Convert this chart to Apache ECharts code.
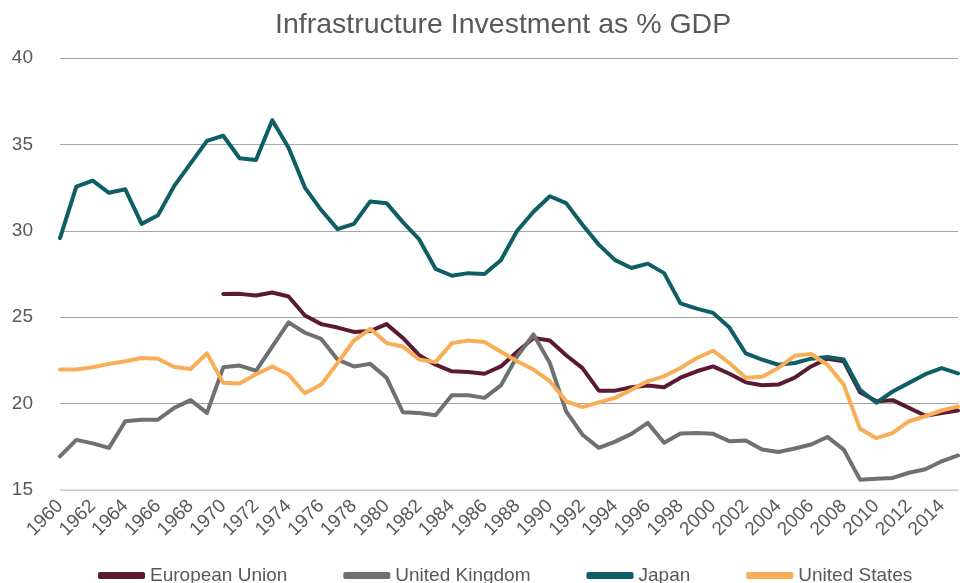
<!DOCTYPE html>
<html>
<head>
<meta charset="utf-8">
<script src="https://cdn.jsdelivr.net/npm/echarts@6/dist/echarts.min.js"></script>
<style>
  html, body { margin: 0; padding: 0; background: #fff; }
  #chart { width: 960px; height: 583px; }
</style>
</head>
<body>
<div id="chart"></div>
<script>
// years 1960..2015
const years = [];
for (let y = 1960; y <= 2015; y++) years.push(String(y));

const euData = [
  null, null, null, null, null, null, null, null, null, null,
  26.34, 26.35, 26.26, 26.43, 26.2, 25.1, 24.6, 24.4, 24.15, 24.2,
  24.6, 23.8, 22.8, 22.25, 21.87, 21.83, 21.73, 22.15, 23.0, 23.8,
  23.65, 22.8, 22.05, 20.75, 20.75, 20.95, 21.05, 20.95, 21.5, 21.87,
  22.15, 21.73, 21.23, 21.06, 21.1, 21.5, 22.15, 22.6, 22.45, 20.65,
  20.13, 20.2, 19.75, 19.3, 19.45, 19.6
];
const ukData = [
  16.95, 17.9, 17.7, 17.44, 18.98, 19.07, 19.07, 19.75, 20.2, 19.46,
  22.1, 22.2, 21.9, 23.3, 24.7, 24.1, 23.74, 22.55, 22.15, 22.3,
  21.5, 19.5, 19.46, 19.32, 20.48, 20.48, 20.33, 21.05, 22.74, 24.0,
  22.35, 19.55, 18.2, 17.44, 17.8, 18.25, 18.88, 17.73, 18.27, 18.3,
  18.25, 17.82, 17.86, 17.34, 17.2, 17.4, 17.63, 18.07, 17.34, 15.6,
  15.65, 15.7, 16.0, 16.2, 16.66, 17.0
];
const japanData = [
  29.58, 32.56, 32.9, 32.2, 32.4, 30.4, 30.9, 32.6, 33.9, 35.2,
  35.5, 34.2, 34.1, 36.4, 34.8, 32.5, 31.2, 30.1, 30.4, 31.7,
  31.6, 30.5, 29.5, 27.8, 27.4, 27.55, 27.5, 28.3, 30.0, 31.1,
  32.0, 31.6, 30.35, 29.2, 28.3, 27.85, 28.1, 27.55, 25.8, 25.5,
  25.25, 24.4, 22.9, 22.55, 22.25, 22.35, 22.6, 22.7, 22.55, 20.8,
  20.05, 20.7, 21.2, 21.7, 22.05, 21.75
];
const usData = [
  21.97, 21.97, 22.1, 22.3, 22.45, 22.64, 22.6, 22.12, 22.0, 22.9,
  21.2, 21.16, 21.7, 22.15, 21.68, 20.6, 21.1, 22.35, 23.65, 24.33,
  23.5, 23.3, 22.55, 22.4, 23.5, 23.65, 23.57, 23.0, 22.45, 21.97,
  21.3, 20.13, 19.8, 20.07, 20.33, 20.8, 21.3, 21.58, 22.06, 22.64,
  23.06, 22.35, 21.5, 21.55, 22.06, 22.77, 22.87, 22.25, 21.1, 18.54,
  18.0, 18.3, 18.98, 19.27, 19.6, 19.84
];

const seriesNames = ['European Union', 'United Kingdom', 'Japan', 'United States'];
const seriesColors = ['#5b1a33', '#6e7071', '#0e5e66', '#f8ae57'];
const seriesValues = [euData, ukData, japanData, usData];

const chart = echarts.init(document.getElementById('chart'));
const font = '"Liberation Sans", Arial, sans-serif';

chart.setOption({
  animation: false,
  title: {
    text: 'Infrastructure Investment as % GDP',
    left: 270,
    top: 6,
    textStyle: { fontFamily: font, fontSize: 28.5, fontWeight: 'normal', color: '#595959' }
  },
  legend: {
    left: 93,
    top: 561,
    itemWidth: 47,
    itemHeight: 7,
    itemGap: 56,
    icon: 'roundRect',
    textStyle: { fontFamily: font, fontSize: 19, color: '#595959' },
    data: seriesNames
  },
  grid: { left: 60, right: 2, top: 58, bottom: 93, containLabel: false },
  xAxis: {
    type: 'category',
    data: years,
    boundaryGap: false,
    axisLine: { lineStyle: { color: '#d9d9d9', width: 1.5 } },
    axisTick: { show: false },
    axisLabel: {
      interval: 1,
      rotate: 45,
      margin: 13,
      fontFamily: font,
      fontSize: 19,
      color: '#595959'
    },
    splitLine: { show: false }
  },
  yAxis: {
    type: 'value',
    min: 15,
    max: 40,
    interval: 5,
    axisLine: { show: false },
    axisTick: { show: false },
    axisLabel: { margin: 27, fontFamily: font, fontSize: 19, color: '#595959' },
    splitLine: { lineStyle: { color: '#a6a6a6', width: 1 } }
  },
  series: seriesNames.map((name, i) => ({
    name: name,
    type: 'line',
    data: seriesValues[i],
    symbol: 'none',
    connectNulls: false,
    lineStyle: { color: seriesColors[i], width: 4, join: 'round', cap: 'round' },
    itemStyle: { color: seriesColors[i] }
  }))
});
</script>
</body>
</html>
